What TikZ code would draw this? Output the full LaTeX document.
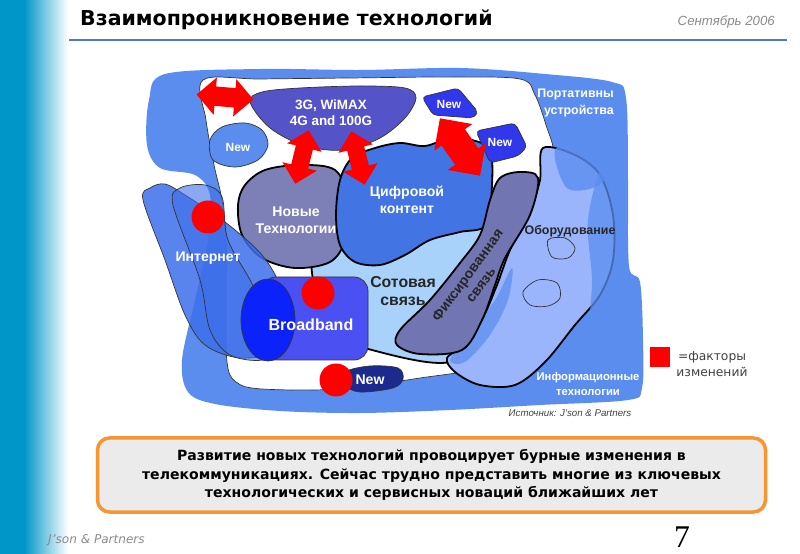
\documentclass[tikz,border=0pt]{standalone}
\usepackage{fontspec}
\setmainfont{Liberation Sans}
\newfontfamily\dvsans{DejaVu Sans}
\newfontfamily\lserif{Liberation Serif}
\usetikzlibrary{shapes.arrows, positioning}
\newlength{\px}
\setlength{\px}{0.3mm}
\newcommand{\fs}[2]{\fontsize{#1}{#2}\selectfont}
\definecolor{barcol}{HTML}{0096C8}
\definecolor{rulecol}{HTML}{4A78D6}
\definecolor{framecol}{HTML}{5B8DEF}
\definecolor{netcol}{HTML}{3D6FEA}
\definecolor{cellcol}{HTML}{A8D2FA}
\definecolor{novcol}{HTML}{7C80B6}
\definecolor{digcol}{HTML}{4274E4}
\definecolor{bbcol}{HTML}{4B50F2}
\definecolor{bbdark}{HTML}{0B22FA}
\definecolor{fixcol}{HTML}{7176B2}
\definecolor{oborcol}{HTML}{9AB5FB}
\definecolor{gcol}{HTML}{5453C8}
\definecolor{newcol}{HTML}{3138EC}
\definecolor{newdark}{HTML}{1C2A8E}
\definecolor{boxline}{HTML}{F7962F}
\definecolor{boxfill}{HTML}{EBEBEB}
\definecolor{greytxt}{HTML}{8A8A8A}

\begin{document}
\begin{tikzpicture}[x=1\px, y=-1\px,
    wob/.style={smooth cycle, tension=0.55},
    rim/.style={draw=black!80, line width=0.7\px},
    fatrim/.style={draw=black, line width=1.8\px},
    wlbl/.style={text=white, font=\bfseries\fs{12}{14.5}, align=center, inner sep=0pt},
    blbl/.style={wlbl, text=black!85},
    newlbl/.style={wlbl, font=\bfseries\fs{10.2}{12}},
    factor/.style={double arrow, fill=red, inner xsep=0pt, inner ysep=9.5\px, minimum width=37\px,
                   minimum height=57\px, double arrow head extend=9\px},
    dot/.style={circle, fill=red, inner sep=0pt, minimum size=33\px}
  ]
  \useasboundingbox (0,0) rectangle (800,554);
  \fill[barcol] (0,0) rectangle (24,554);
  \shade[left color=barcol, right color=white] (24,0) rectangle (68,554);

  \node[anchor=west, font=\dvsans\bfseries\fs{17.5}{20}, inner sep=0pt] (title) at (80,20) {Взаимопроникновение технологий};
  \node[anchor=east, font=\itshape\fs{11.3}{13}, text=greytxt, inner sep=0pt] (date) at (775,22) {Сентябрь 2006};
  \draw[rulecol, line width=2.5\px] (69,40) -- (787,40);

  % outer band and white inside
  \fill[framecol] plot[wob] coordinates {(165,74) (260,69) (360,70) (460,68) (545,74) (612,82) (626,98) (628,180) (629,266) (640,282) (643,340) (642,388) (628,400) (540,405) (450,410) (360,413) (280,411) (215,404) (188,392) (182,360) (195,300) (208,240) (210,195) (195,175) (160,168) (147,145) (149,100)};
  \filldraw[fill=white, rim] plot[wob] coordinates {(203,80) (260,79) (350,78) (450,77) (520,79) (535,95) (546,125) (554,155) (545,190) (560,250) (560,300) (530,345) (480,368) (420,378) (340,389) (262,389) (236,382) (227,362) (226,300) (226,240) (222,200) (214,165) (206,120)};

  \filldraw[fill=cellcol, fatrim] plot[wob] coordinates {(316,245) (318,300) (345,335) (372,350) (450,362) (490,320) (508,270) (505,232) (450,228) (380,236)};
  \filldraw[fill=novcol, fatrim] plot[wob] coordinates {(238,205) (245,185) (265,170) (300,165) (335,170) (348,200) (345,240) (330,262) (295,268) (262,258) (242,235)};
  \filldraw[fill=netcol, fill opacity=0.85, rim] plot[wob] coordinates {(143,200) (150,188) (165,184) (185,195) (225,222) (262,255) (282,290) (292,335) (280,352) (240,358) (205,345) (185,315) (165,260)};
  \filldraw[fill=netcol, fill opacity=0.6, rim] plot[wob] coordinates {(173,205) (180,188) (205,185) (222,197) (228,240) (255,290) (272,345) (262,360) (230,355) (210,330) (200,280)};
  \filldraw[fill=digcol, fatrim] plot[wob] coordinates {(336,215) (340,180) (352,158) (375,148) (400,143) (425,146) (450,138) (472,140) (490,150) (492,185) (486,225) (460,232) (430,240) (405,255) (380,265) (355,262) (340,245)};

  \filldraw[fill=bbcol, rim, rounded corners=14\px] (262,277) rectangle (368,360);
  \filldraw[fill=bbdark, rim] (268,320) ellipse [x radius=27, y radius=41];

  \filldraw[fill=oborcol, fatrim] plot[wob] coordinates {(543,148) (575,155) (600,175) (613,215) (613,260) (600,295) (575,325) (545,362) (515,385) (480,385) (455,372) (447,358) (465,345) (482,320) (497,285) (510,250) (530,210) (540,180)};
  \fill[framecol, opacity=0.8] plot[wob] coordinates {(556,148) (600,148) (612,165) (603,182) (585,190) (565,186)};
  \fill[framecol, opacity=0.75] plot[wob] coordinates {(603,165) (622,180) (628,270) (615,300) (590,335) (592,280) (588,220)};
  \fill[framecol, opacity=0.7] plot[wob] coordinates {(450,360) (470,335) (495,300) (512,268) (508,300) (490,335) (465,362)};
  \draw[rim] plot[wob] coordinates {(548,240) (565,238) (575,248) (568,258) (552,257)};
  \draw[rim] plot[wob] coordinates {(523,292) (538,280) (557,283) (560,298) (548,306) (530,305)};
  \filldraw[fill=fixcol, fatrim] plot[wob] coordinates {(397,345) (400,330) (430,300) (460,263) (480,235) (490,200) (500,178) (520,172) (538,178) (530,215) (505,258) (495,285) (482,320) (462,350) (420,354)};

  \filldraw[fill=gcol, rim] plot[wob] coordinates {(250,102) (262,92) (300,88) (360,86) (405,88) (416,98) (405,118) (380,138) (345,150) (305,146) (270,128)};
  \filldraw[fill=framecol, rim] plot[wob] coordinates {(210,140) (222,127) (245,123) (262,130) (268,145) (258,160) (235,167) (213,160)};
  \filldraw[fill=newcol, rim, rounded corners=4\px] (422,97) -- (458,88) -- (478,112) -- (473,118) -- (433,115) -- cycle;
  \filldraw[fill=newcol, rim, rounded corners=4\px] (476,131) -- (515,123) -- (527,147) -- (518,156) -- (490,163) -- cycle;
  \filldraw[fill=newdark, rim] plot[wob] coordinates {(345,372) (370,366) (398,368) (403,379) (393,388) (360,392) (345,385)};

  \node[factor, rotate=-5] (ar1) at (225,97) {};
  \node[factor, rotate=76, inner ysep=8.5\px, minimum height=55\px, minimum width=35\px] (ar2) at (302,157) {};
  \node[factor, rotate=104, inner ysep=8.5\px, minimum height=55\px, minimum width=35\px] (ar3) at (358,158) {};
  \node[factor, rotate=-55, inner ysep=14\px, minimum height=70\px, minimum width=46\px,
        double arrow head extend=9\px] (ar4) at (460,147) {};
  \node[dot] (d1) at (208,217) {};
  \node[dot] (d2) at (318,293) {};
  \node[dot] (d3) at (336,380) {};

  \node[wlbl, font=\bfseries\fs{11.5}{13.7}] (g4) at (331,113) {3G, WiMAX\\4G and 100G};
  \node[newlbl] (n1) at (449,104) {New};
  \node[newlbl] (n2) at (500,142) {New};
  \node[newlbl] (n3) at (238,147) {New};
  \node[wlbl] (n4) at (370,380) {New};
  \node[wlbl] (nov) at (296,220) {Новые\\Технологии};
  \node[wlbl] (dig) at (407,200) {Цифровой\\контент};
  \node[wlbl] (net) at (208,258) {Интернет};
  \node[wlbl, font=\bfseries\fs{13.7}{16}] (bb) at (311,325) {Broadband};
  \node[blbl, font=\bfseries\fs{13.5}{15.4}] (cell) at (403,291) {Сотовая\\связь};
  \node[blbl, rotate=54, font=\bfseries\fs{12}{14}] (fix) at (474,280) {Фиксированная\\связь};
  \node[blbl, font=\bfseries\fs{10.6}{12}] (obor) at (570,231) {Оборудование};
  \node[wlbl, anchor=east, align=right, font=\bfseries\fs{10.6}{13.7}] (port) at (614,103) {Портативны\\устройства};
  \node[wlbl, font=\bfseries\fs{9.6}{12}] (info) at (588,384) {Информационные\\технологии};

  \node[fill=red, minimum size=20\px, inner sep=0pt] (key) at (660,357) {};
  \node[font=\dvsans\fs{10.5}{13.5}, text=black!75, align=center, inner sep=0pt] (keytxt) at (712,364) {=факторы\\изменений};
  \node[font=\itshape\fs{8.3}{10}, text=black!75, inner sep=0pt] (src) at (570,413) {Источник: J’son \& Partners};

  \node[draw=boxline, line width=3.5\px, fill=boxfill, rounded corners=12\px, minimum width=668\px,
        minimum height=74\px, inner sep=0pt, align=center, font=\dvsans\bfseries\fs{12}{15.8}] (msg) at (431.5,475)
    {Развитие новых технологий провоцирует бурные изменения в\\телекоммуникациях. Сейчас трудно представить многие из ключевых\\технологических и сервисных новаций ближайших лет};
  \node[anchor=west, font=\dvsans\itshape\fs{10.3}{12}, text=greytxt, inner sep=0pt] (firm) at (48,540) {J’son \& Partners};
  \node[font=\lserif\fs{27}{27}, inner sep=0pt] (page) at (682,537) {7};
\end{tikzpicture}
\end{document}
